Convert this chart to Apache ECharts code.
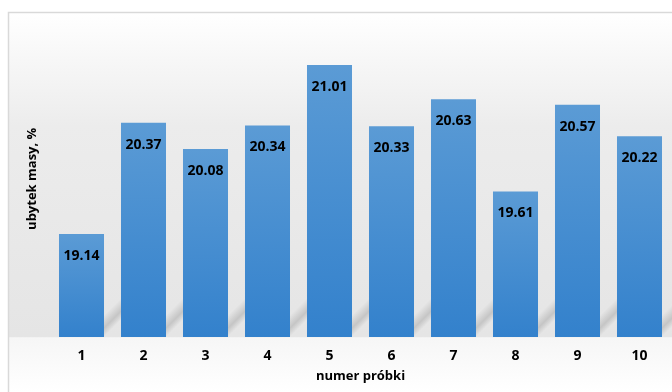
<!DOCTYPE html>
<html>
<head>
<meta charset="utf-8">
<script src="https://cdn.jsdelivr.net/npm/echarts@6/dist/echarts.min.js"></script>
<style>
  html, body { margin: 0; padding: 0; background: #fff; }
  #chart { width: 672px; height: 392px; }
</style>
</head>
<body>
<div id="chart"></div>
<script>
// numer próbki i ubytek masy
var probki = ['1', '2', '3', '4', '5', '6', '7', '8', '9', '10'];
var ubytek = [19.14, 20.37, 20.08, 20.34, 21.01, 20.33, 20.63, 19.61, 20.57, 20.22];
var yMin = 18;
var yMax = 21.5;

var myChart = echarts.init(document.getElementById('chart'));

// cien slupka na "podlodze" (po prawej stronie)
function renderShadow(params, api) {
    var base = api.coord([api.value(0), yMin]);
    var band = api.size([1, 0])[0];
    var xR = base[0] + band * 0.726 / 2;
    var y0 = base[1];
    var len = 24, th = 22;
    return {
        type: 'polygon',
        shape: {
            points: [[xR, y0], [xR, y0 - th], [xR + len, y0 - th - len], [xR + len, y0 - len]]
        },
        style: {
            fill: new echarts.graphic.LinearGradient(xR, y0 - th, xR + th / 2, y0 - th / 2, [
                {offset: 0, color: 'rgba(0,0,0,0)'},
                {offset: 0.6, color: 'rgba(0,0,0,0.14)'},
                {offset: 1, color: 'rgba(0,0,0,0)'}
            ], true)
        }
    };
}

var option = {
    backgroundColor: '#fff',
    textStyle: {fontFamily: '"Open Sans", Lato, sans-serif'},
    graphic: [{
        type: 'rect',
        z: -10,
        silent: true,
        shape: {x: 8.5, y: 12.5, width: 700, height: 400},
        style: {
            fill: new echarts.graphic.LinearGradient(0, 12, 0, 392, [
                {offset: 0, color: '#ffffff'},
                {offset: 0.3, color: '#ececec'},
                {offset: 0.855, color: '#e5e5e5'},
                {offset: 0.857, color: '#f6f6f6'},
                {offset: 1, color: '#ffffff'}
            ], true),
            stroke: '#d9d9d9',
            lineWidth: 1.5
        }
    }],
    grid: {left: 50.5, right: 1.5, top: 20.6, bottom: 55},
    xAxis: {
        type: 'category',
        data: probki,
        axisLine: {show: false},
        axisTick: {show: false},
        axisLabel: {margin: 12, fontSize: 14, fontWeight: 'bold', color: '#000'},
        name: 'numer próbki',
        nameLocation: 'middle',
        nameGap: 33,
        nameTextStyle: {fontSize: 13, fontWeight: 'bold', color: '#000'}
    },
    yAxis: {
        type: 'value',
        min: yMin,
        max: yMax,
        axisLine: {show: false},
        axisTick: {show: false},
        axisLabel: {show: false},
        splitLine: {show: false},
        name: 'ubytek masy, %',
        nameLocation: 'middle',
        nameGap: 12,
        nameTextStyle: {fontSize: 13, fontWeight: 'bold', color: '#000'}
    },
    series: [
        {
            type: 'custom',
            renderItem: renderShadow,
            data: probki.map(function (p, i) { return [i]; }),
            encode: {x: 0},
            silent: true,
            z: 1
        },
        {
            name: 'ubytek masy',
            type: 'bar',
            data: ubytek,
            barWidth: '72.6%',
            z: 2,
            itemStyle: {
                color: new echarts.graphic.LinearGradient(0, 0, 0, 1, [
                    {offset: 0, color: '#5b9bd5'},
                    {offset: 1, color: '#3381cc'}
                ])
            },
            label: {
                show: true,
                position: 'insideTop',
                distance: 15,
                fontSize: 14,
                fontWeight: 'bold',
                color: '#000',
                formatter: function (p) { return p.value.toFixed(2); }
            }
        }
    ]
};
myChart.setOption(option);
</script>
</body>
</html>
